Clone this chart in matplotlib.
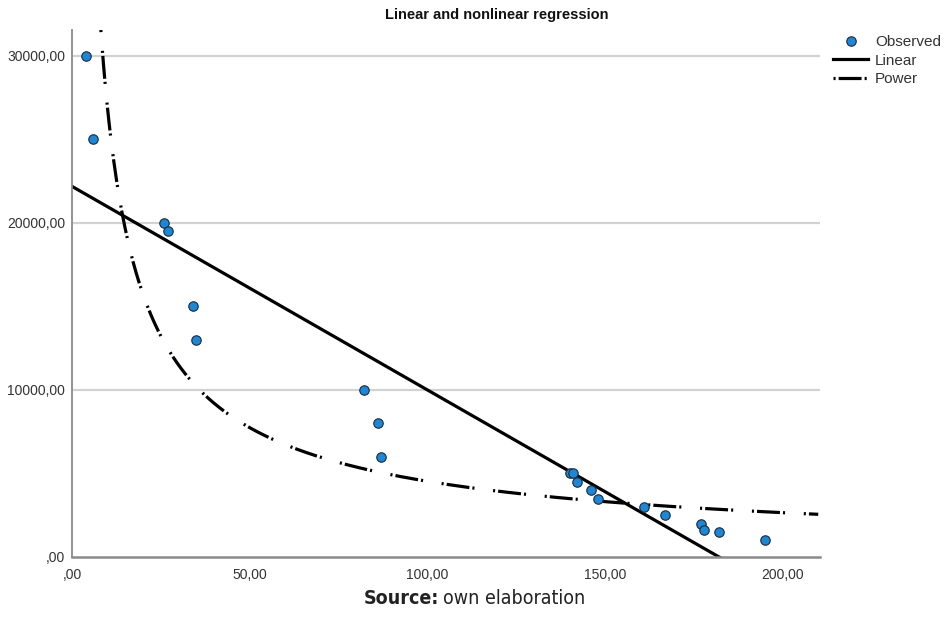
import matplotlib
matplotlib.use("Agg")
import matplotlib.pyplot as plt
import numpy as np

plt.rcParams['font.family'] = ['Liberation Sans', 'DejaVu Sans']
plt.rcParams['lines.scale_dashes'] = False

obs_x = [3.9, 5.9, 25.9, 27.0, 34.0, 34.9, 82.1, 86.0, 87.0, 140.1,
         141.0, 142.0, 146.1, 148.1, 160.9, 167.0, 177.1, 177.8, 182.1, 195.0]
obs_y = [30000, 25000, 20000, 19500, 15000, 13000, 10000, 8000, 6000, 5000,
         5000, 4500, 4000, 3500, 3000, 2500, 2000, 1600, 1500, 1000]

x_ticks = [0, 50, 100, 150, 200]
y_ticks = [0, 10000, 20000, 30000]

def fmt(v):
    s = "%.2f" % v
    s = s.replace(".", ",")
    if s.startswith("0,"):
        s = s[1:]
    return s

##! Fits: linear and power (log-log)
ox = np.array(obs_x)
oy = np.array(obs_y)
lin = np.polyfit(ox, oy, 1)
pw = np.polyfit(np.log(ox), np.log(oy), 1)

xl = np.linspace(0, 210, 400)
yl = np.polyval(lin, xl)
xp = np.linspace(1, 210, 800)
yp = np.exp(pw[1]) * xp ** pw[0]

fig = plt.figure(figsize=(9.51, 6.37), dpi=100)
ax = fig.add_axes([72/951, 1-557/637, (820-72)/951, (557-30)/637])

for v in y_ticks[1:]:
    ax.axhline(v, color='#d2d2d2', lw=1.6, zorder=0)

ax.plot(xl, yl, color='black', lw=2.3, label='Linear', zorder=2)
dd, = ax.plot(xp, yp, color='black', lw=2.3, label='Power', zorder=2,
              dash_capstyle='butt')
dd.set_dashes([1.5, 2.2, 16.5, 2.2, 1.5, 13.5])
ax.plot(ox, oy, 'o', color='#1d87d6', mec='#1a2a3a', mew=0.8, ms=6.8,
        label='Observed', zorder=3)

ax.set_xlim(0, 210.5)
ax.set_ylim(0, 31550)
ax.set_xticks(x_ticks)
ax.set_xticklabels([fmt(v) for v in x_ticks])
ax.set_yticks(y_ticks)
ax.set_yticklabels([fmt(v) for v in y_ticks])
ax.tick_params(length=0, labelsize=10, labelcolor='#333333')
ax.tick_params(axis='x', pad=8)
ax.tick_params(axis='y', pad=5)

for s in ['top', 'right']:
    ax.spines[s].set_visible(False)
ax.spines['left'].set_color('#8a8a8a')
ax.spines['left'].set_linewidth(1.3)
ax.spines['bottom'].set_color('#8a8a8a')
ax.spines['bottom'].set_linewidth(1.8)

h, l = ax.get_legend_handles_labels()
order = [2, 0, 1]
fig.legend([h[i] for i in order], [l[i] for i in order],
           loc='upper left', bbox_to_anchor=(833/951, 1-35/637),
           frameon=False, fontsize=11, handlelength=2.3, handletextpad=0.45,
           labelspacing=0.3, borderpad=0, borderaxespad=0, labelcolor='#333333')

fig.text(497/951, 1-15/637, 'Linear and nonlinear regression', ha='center',
         va='center', fontsize=10.5, fontweight='bold', color='#111111')

##! Source line, bold prefix then normal text, squeezed to the reference width
src_font = ['DejaVu Sans']
src_y = 1 - 599/637
t1 = fig.text(364/951, src_y, 'Source:', ha='left', va='center', fontsize=15,
              fontweight='bold', family=src_font, fontstretch='condensed',
              color='#222222')
t2 = fig.text(0, src_y, 'own elaboration', ha='left', va='center', fontsize=15,
              family=src_font, fontstretch='condensed', color='#222222')
fig.canvas.draw()
for k in range(3):
    b1 = t1.get_window_extent()
    t2.set_x((b1.x1 + 4)/951)
    fig.canvas.draw()
    b2 = t2.get_window_extent()
    w = b2.x1 - b1.x0
    sc = 222.0 / w
    t1.set_fontsize(t1.get_fontsize() * sc)
    t2.set_fontsize(t2.get_fontsize() * sc)
    fig.canvas.draw()
b1 = t1.get_window_extent()
t2.set_x((b1.x1 + 4)/951)

fig.savefig('out.png', dpi=100)
